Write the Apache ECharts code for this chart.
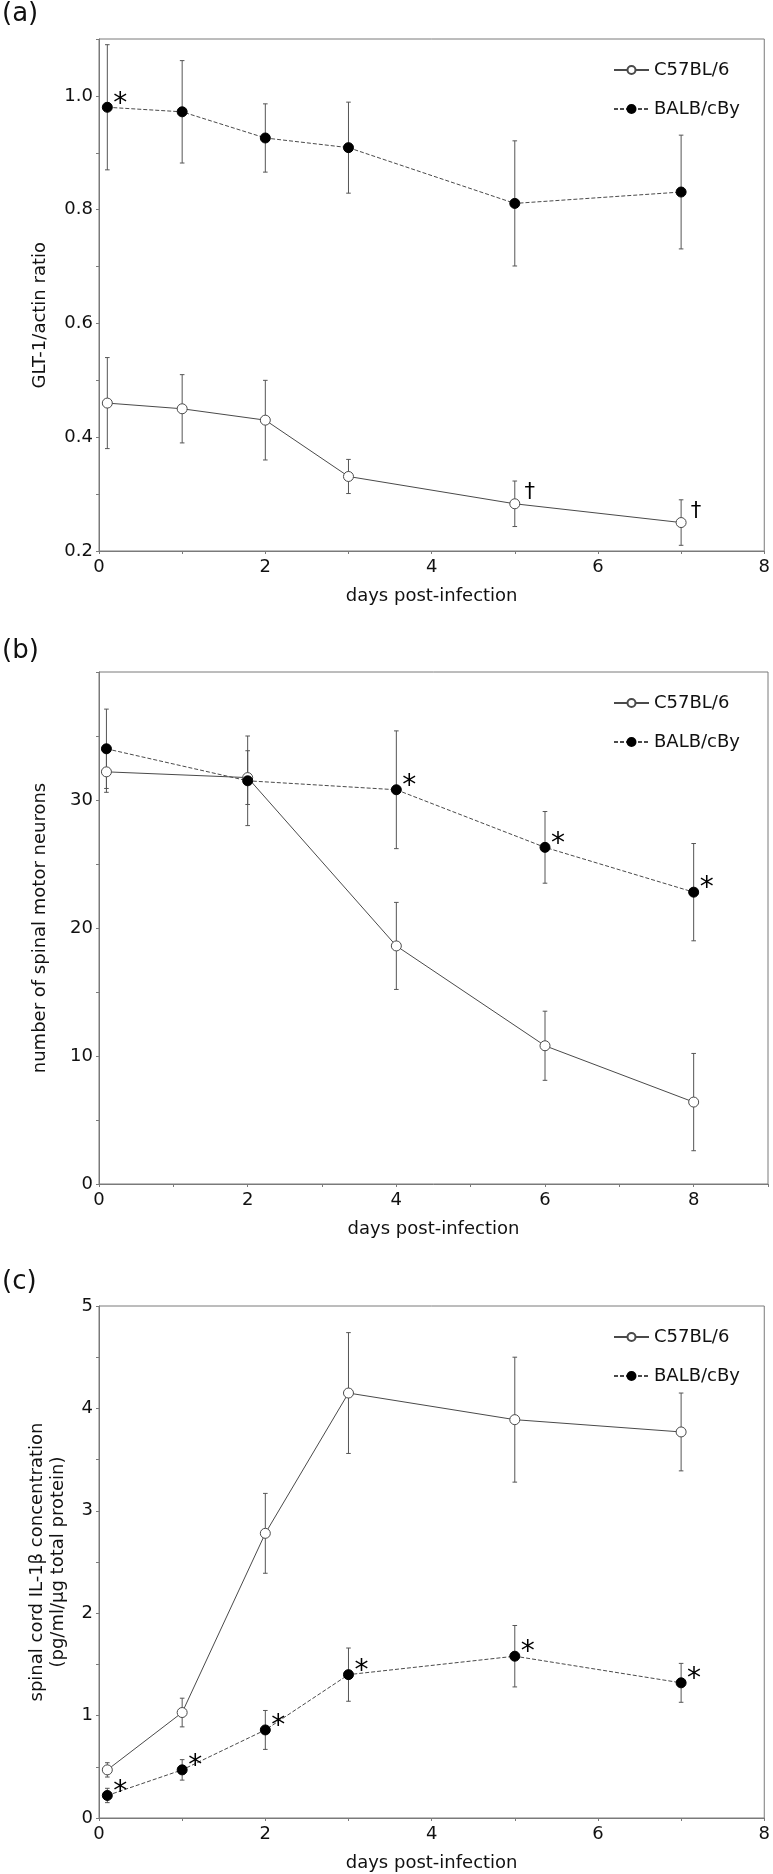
<!DOCTYPE html>
<html>
<head>
<meta charset="utf-8">
<script src="https://cdn.jsdelivr.net/npm/echarts@6/dist/echarts.min.js"></script>
<style>
html,body{margin:0;padding:0;background:#fff;}
#chart{width:773px;height:1874px;}
</style>
</head>
<body>
<div id="chart"></div>
<script>
// ---------- data ----------
const seriesNames = ['C57BL/6', 'BALB/cBy'];
const xTickLabels = [0, 2, 4, 6, 8];

// (a) GLT-1/actin ratio
const aDays = [0.1, 1, 2, 3, 5, 7];
const aC57Mean = [0.46, 0.45, 0.43, 0.331, 0.283, 0.25];
const aC57Err = [0.08, 0.06, 0.07, 0.03, 0.04, 0.04];
const aBalbMean = [0.98, 0.972, 0.926, 0.909, 0.811, 0.831];
const aBalbErr = [0.11, 0.09, 0.06, 0.08, 0.11, 0.10];
const aC57Marks = ['', '', '', '', '†', '†'];
const aBalbMarks = ['*', '', '', '', '', ''];
const aYTickLabels = [0.2, 0.4, 0.6, 0.8, 1.0];

// (b) number of spinal motor neurons
const bDays = [0.1, 2, 4, 6, 8];
const bC57Mean = [32.2, 31.75, 18.6, 10.8, 6.4];
const bC57Err = [1.6, 2.1, 3.4, 2.7, 3.8];
const bBalbMean = [34.0, 31.5, 30.8, 26.3, 22.8];
const bBalbErr = [3.1, 3.5, 4.6, 2.8, 3.8];
const bC57Marks = ['', '', '', '', ''];
const bBalbMarks = ['', '', '*', '*', '*'];
const bYTickLabels = [0, 10, 20, 30];

// (c) spinal cord IL-1β concentration
const cDays = [0.1, 1, 2, 3, 5, 7];
const cC57Mean = [0.47, 1.03, 2.78, 4.15, 3.89, 3.77];
const cC57Err = [0.07, 0.14, 0.39, 0.59, 0.61, 0.38];
const cBalbMean = [0.22, 0.47, 0.86, 1.40, 1.58, 1.32];
const cBalbErr = [0.07, 0.10, 0.19, 0.26, 0.30, 0.19];
const cC57Marks = ['', '', '', '', '', ''];
const cBalbMarks = ['*', '*', '*', '*', '*', '*'];
const cYTickLabels = [0, 1, 2, 3, 4, 5];

// ---------- styles ----------
const FONT = 'DejaVu Sans';
const AXIS_COLOR = '#7a7a7a';
const LINE_COLOR = '#4a4a4a';
const ERR_COLOR = '#555';

const panels = [
  {
    label: '(a)', labelTop: 1, top: 39, height: 512,
    xMax: 8, yMin: 0.2, yMax: 1.1, yInterval: 0.1, yTicks: aYTickLabels, yDec: 1,
    yName: 'GLT-1/actin ratio', yNameGap: 48, yNameShift: 20,
    days: aDays, c57: aC57Mean, c57e: aC57Err, balb: aBalbMean, balbe: aBalbErr,
    c57m: aC57Marks, balbm: aBalbMarks
  },
  {
    label: '(b)', labelTop: 638, top: 672, height: 512,
    xMax: 9, yMin: 0, yMax: 40, yInterval: 5, yTicks: bYTickLabels, yDec: 0,
    yName: 'number of spinal motor neurons', yNameGap: 48, yNameShift: 0,
    days: bDays, c57: bC57Mean, c57e: bC57Err, balb: bBalbMean, balbe: bBalbErr,
    c57m: bC57Marks, balbm: bBalbMarks
  },
  {
    label: '(c)', labelTop: 1269, top: 1306, height: 512,
    xMax: 8, yMin: 0, yMax: 5, yInterval: 0.5, yTicks: cYTickLabels, yDec: 0,
    yName: 'spinal cord IL-1β concentration\n(pg/ml/μg total protein)', yNameGap: 30, yNameShift: 0,
    days: cDays, c57: cC57Mean, c57e: cC57Err, balb: cBalbMean, balbe: cBalbErr,
    c57m: cC57Marks, balbm: cBalbMarks
  }
];

function inList(v, list) {
  return list.some(t => Math.abs(t - v) < 1e-6);
}

function measure(text, size) {
  const cv = document.createElement('canvas').getContext('2d');
  cv.font = size + 'px "' + FONT + '"';
  return cv.measureText(text).width;
}

function errRender(params, api) {
  const x = api.value(0), m = api.value(1), e = api.value(2);
  const top = api.coord([x, m + e]);
  const bot = api.coord([x, m - e]);
  const w = 2.3;
  const st = { stroke: ERR_COLOR, lineWidth: 1 };
  return {
    type: 'group',
    children: [
      { type: 'line', shape: { x1: top[0], y1: top[1], x2: bot[0], y2: bot[1] }, style: st },
      { type: 'line', shape: { x1: top[0] - w, y1: top[1], x2: top[0] + w, y2: top[1] }, style: st },
      { type: 'line', shape: { x1: bot[0] - w, y1: bot[1], x2: bot[0] + w, y2: bot[1] }, style: st }
    ]
  };
}

const markData = {};

function markRender(params, api) {
  const x = api.value(0), m = api.value(1);
  const mark = markData[params.seriesIndex][params.dataIndex];
  const p = api.coord([x, m]);
  const isStar = mark === '*';
  return {
    type: 'text',
    x: p[0] + (isStar ? 13 : 15),
    y: p[1] + (isStar ? -3 : -11),
    style: {
      text: mark,
      fill: '#000',
      fontSize: isStar ? 28 : 21,
      fontFamily: FONT,
      align: 'center',
      verticalAlign: 'middle'
    }
  };
}

const grid = [], xAxis = [], yAxis = [], series = [], legend = [], graphic = [];

panels.forEach((p, i) => {
  grid.push({
    left: 99, width: 669, top: p.top, height: p.height,
    show: true, borderColor: AXIS_COLOR, borderWidth: 1, backgroundColor: 'transparent'
  });
  xAxis.push({
    gridIndex: i, type: 'value', min: 0, max: p.xMax, interval: 1,
    name: 'days post-infection', nameLocation: 'middle', nameGap: 36,
    nameTextStyle: { fontFamily: FONT, fontSize: 18, color: '#111' },
    axisLine: { show: true, lineStyle: { color: AXIS_COLOR, width: 1 } },
    axisTick: { show: true, inside: false, length: 3, lineStyle: { color: AXIS_COLOR } },
    splitLine: { show: false },
    axisLabel: {
      fontFamily: FONT, fontSize: 18, color: '#111', margin: 7,
      formatter: v => inList(v, xTickLabels) ? String(Math.round(v)) : ''
    }
  });
  const useAxisName = p.yNameShift === 0;
  yAxis.push({
    gridIndex: i, type: 'value', min: p.yMin, max: p.yMax, interval: p.yInterval,
    name: useAxisName ? p.yName : '', nameLocation: 'middle', nameGap: p.yNameGap,
    nameTextStyle: { fontFamily: FONT, fontSize: 18, color: '#111', lineHeight: 21 },
    axisLine: { show: true, lineStyle: { color: AXIS_COLOR, width: 1 } },
    axisTick: { show: true, inside: false, length: 3, lineStyle: { color: AXIS_COLOR } },
    splitLine: { show: false },
    axisLabel: {
      fontFamily: FONT, fontSize: 18, color: '#111', margin: 6,
      formatter: v => inList(v, p.yTicks) ? v.toFixed(p.yDec) : ''
    }
  });
  if (!useAxisName) {
    // axis title sits a little below the grid's centre in the reference
    const len = measure(p.yName, 18);
    const centre = p.top + p.height / 2 + p.yNameShift;
    graphic.push({
      type: 'text', left: 31, top: Math.round(centre - len / 2), rotation: Math.PI / 2,
      style: { text: p.yName, fontFamily: FONT, fontSize: 18, fill: '#111' }
    });
  }

  const c57Data = p.days.map((d, k) => [d, p.c57[k]]);
  const balbData = p.days.map((d, k) => [d, p.balb[k]]);

  // error bars
  series.push({
    type: 'custom', xAxisIndex: i, yAxisIndex: i, z: 1, silent: true,
    renderItem: errRender, encode: { x: 0, y: 1 },
    data: p.days.map((d, k) => [d, p.c57[k], p.c57e[k]])
  });
  series.push({
    type: 'custom', xAxisIndex: i, yAxisIndex: i, z: 1, silent: true,
    renderItem: errRender, encode: { x: 0, y: 1 },
    data: p.days.map((d, k) => [d, p.balb[k], p.balbe[k]])
  });
  // lines
  series.push({
    name: seriesNames[0], type: 'line', xAxisIndex: i, yAxisIndex: i, z: 3,
    data: c57Data, symbol: 'circle', symbolSize: 10, showAllSymbol: true,
    lineStyle: { color: LINE_COLOR, width: 1, type: 'solid' },
    itemStyle: { color: '#fff', borderColor: LINE_COLOR, borderWidth: 1 },
    emphasis: { disabled: true }, animation: false
  });
  series.push({
    name: seriesNames[1], type: 'line', xAxisIndex: i, yAxisIndex: i, z: 3,
    data: balbData, symbol: 'circle', symbolSize: 10, showAllSymbol: true,
    lineStyle: { color: LINE_COLOR, width: 1, type: [4, 2] },
    itemStyle: { color: '#000', borderColor: '#000', borderWidth: 1 },
    emphasis: { disabled: true }, animation: false
  });
  // significance marks
  markData[series.length] = p.c57m;
  series.push({
    type: 'custom', xAxisIndex: i, yAxisIndex: i, z: 4, silent: true,
    renderItem: markRender, encode: { x: 0, y: 1 },
    data: c57Data
  });
  markData[series.length] = p.balbm;
  series.push({
    type: 'custom', xAxisIndex: i, yAxisIndex: i, z: 4, silent: true,
    renderItem: markRender, encode: { x: 0, y: 1 },
    data: balbData
  });

  legend.push({
    data: seriesNames, orient: 'vertical', left: 608, top: p.top + 17,
    itemWidth: 35, itemHeight: 10, itemGap: 21, selectedMode: false,
    textStyle: { fontFamily: FONT, fontSize: 18, color: '#111' }
  });

  graphic.push({
    type: 'text', left: 2, top: p.labelTop,
    style: { text: p.label, fontFamily: FONT, fontSize: 26, fill: '#111' }
  });
});

const chart = echarts.init(document.getElementById('chart'), null, { renderer: 'canvas' });
chart.setOption({
  backgroundColor: '#fff',
  animation: false,
  grid, xAxis, yAxis, series, legend, graphic
});
</script>
</body>
</html>
